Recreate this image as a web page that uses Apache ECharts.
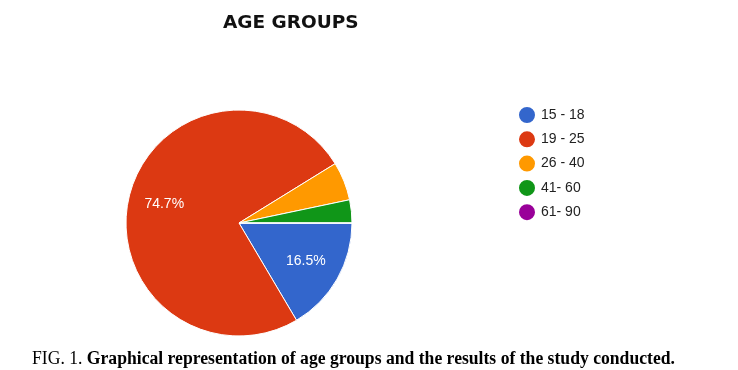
<!DOCTYPE html>
<html>
<head>
<meta charset="utf-8">
<script src="https://cdn.jsdelivr.net/npm/echarts@6/dist/echarts.min.js"></script>
<style>
html,body{margin:0;padding:0;background:#fff;}
#chart{width:738px;height:370px;}
</style>
</head>
<body>
<div id="chart"></div>
<script>
const chartTitle = 'AGE GROUPS';
const categories = ['15 - 18', '19 - 25', '26 - 40', '41- 60', '61- 90'];
const percentages = [16.5, 74.7, 5.5, 3.3, 0];
const sliceColors = ['#3366cc', '#dc3912', '#ff9900', '#109618', '#990099'];
const captionLead = 'FIG. 1. ';
const captionBody = 'Graphical representation of age groups and the results of the study conducted.';

const pieData = categories.map((name, i) => ({ name: name, value: percentages[i] }));

const chart = echarts.init(document.getElementById('chart'), null, { renderer: 'canvas' });
chart.setOption({
  animation: false,
  backgroundColor: '#ffffff',
  color: sliceColors,
  title: {
    text: chartTitle,
    left: 218,
    top: 9,
    textStyle: { fontFamily: 'DejaVu Sans', fontWeight: 'bold', fontSize: 18.5, color: '#111' }
  },
  legend: {
    orient: 'vertical',
    left: 517,
    top: 105,
    padding: 0,
    icon: 'circle',
    itemWidth: 18,
    itemHeight: 18,
    itemGap: 4.3,
    data: categories,
    textStyle: { fontFamily: 'Liberation Sans, Arial', fontSize: 14, color: '#222', lineHeight: 15 }
  },
  series: [
    {
      type: 'pie',
      center: [239, 223],
      radius: [0, 113],
      startAngle: 0,
      clockwise: true,
      data: pieData,
      label: { show: false },
      labelLine: { show: false },
      itemStyle: { borderColor: '#ffffff', borderWidth: 1 },
      emphasis: { disabled: true }
    },
    {
      type: 'pie',
      silent: true,
      center: [239, 223],
      radius: [35, 113],
      startAngle: 0,
      clockwise: true,
      data: pieData,
      itemStyle: { color: 'rgba(0,0,0,0)', borderWidth: 0 },
      label: {
        show: true,
        position: 'inside',
        formatter: p => (p.value >= 10 ? p.value + '%' : ''),
        fontFamily: 'Liberation Sans, Arial',
        fontSize: 14,
        color: '#ffffff'
      },
      labelLine: { show: false },
      emphasis: { disabled: true }
    }
  ],
  graphic: [
    {
      type: 'text',
      x: 32,
      y: 350,
      scaleX: 0.979,
      style: {
        text: '{a|' + captionLead + '}{b|' + captionBody + '}',
        rich: {
          a: { fontFamily: 'Liberation Serif, Times New Roman', fontSize: 18, fontWeight: 'normal', fill: '#000' },
          b: { fontFamily: 'Liberation Serif, Times New Roman', fontSize: 18, fontWeight: 'bold', fill: '#000' }
        }
      }
    }
  ]
});
</script>
</body>
</html>
